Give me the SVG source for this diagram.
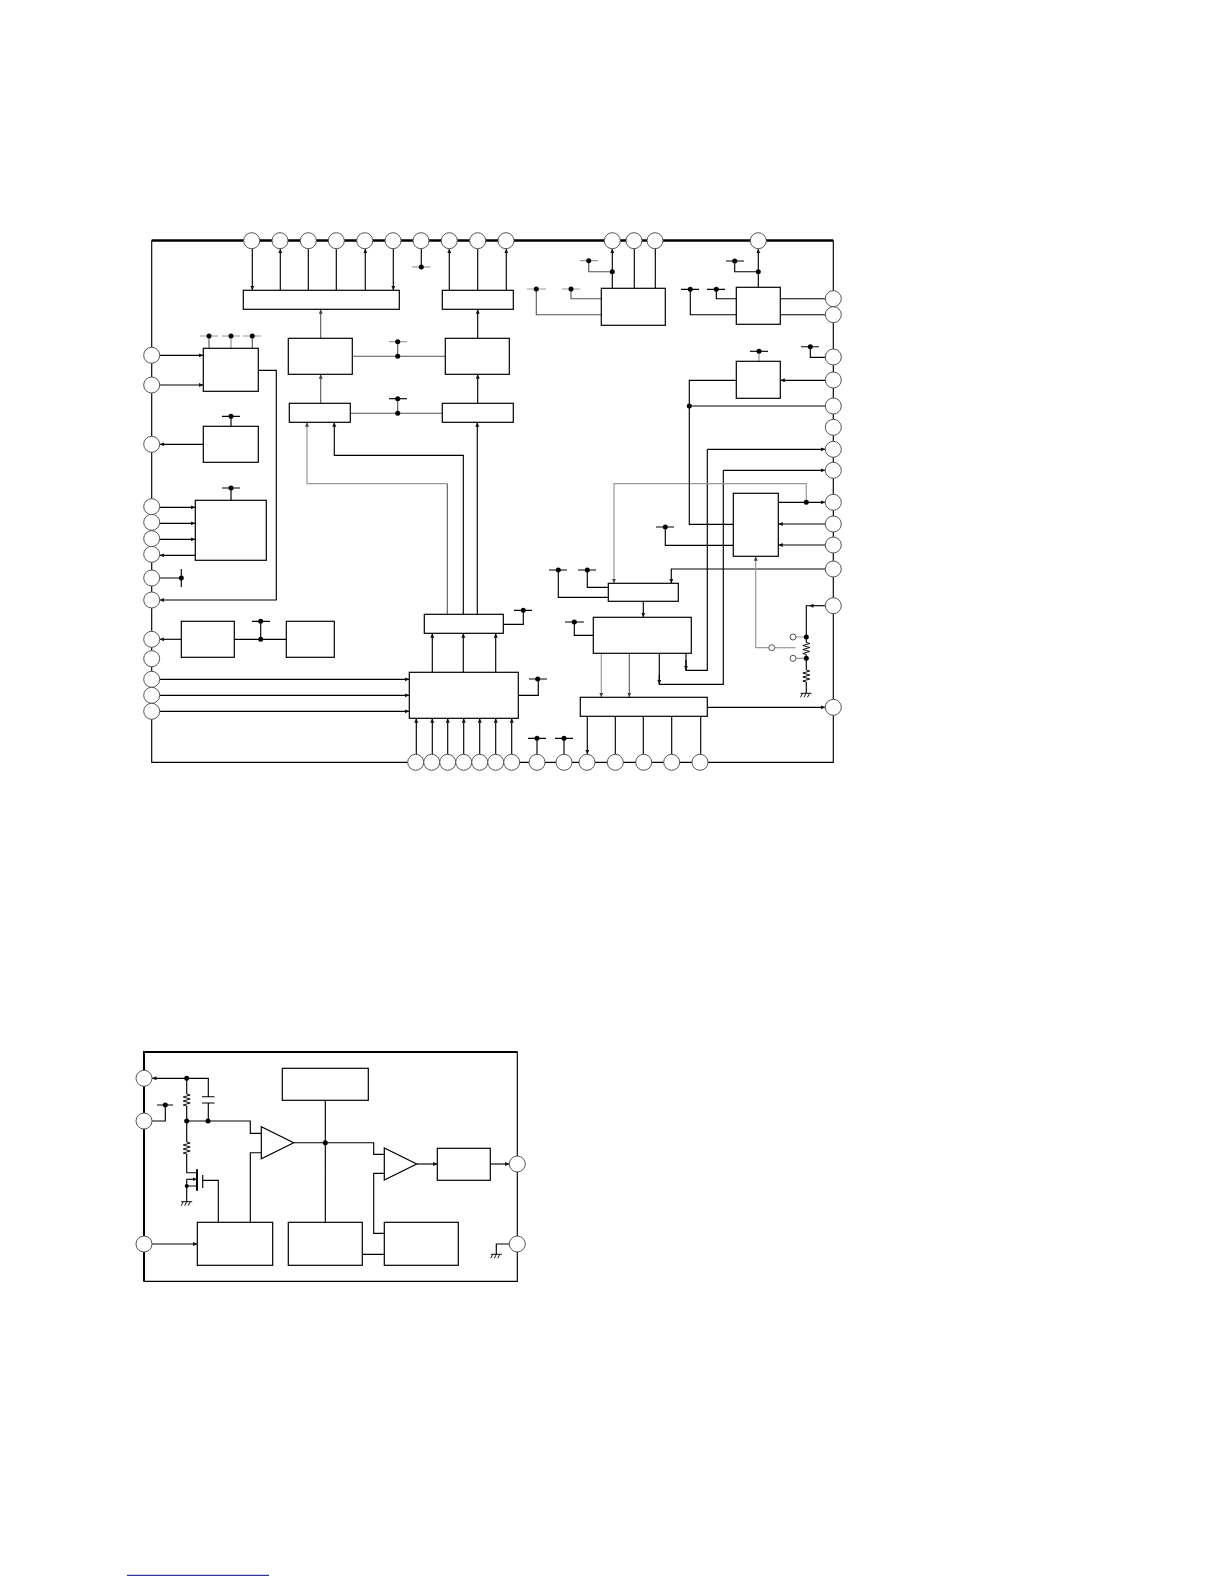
<svg xmlns="http://www.w3.org/2000/svg" width="1224" height="1584" viewBox="0 0 1224 1584">
<defs>
<marker id="ah" markerUnits="userSpaceOnUse" markerWidth="6" markerHeight="5" refX="4.500" refY="2" orient="auto"><path d="M0 0L4.500 2L0 4Z" fill="#111"/></marker>
<marker id="ahg" markerUnits="userSpaceOnUse" markerWidth="6" markerHeight="5" refX="4.500" refY="2" orient="auto"><path d="M0 0L4.500 2L0 4Z" fill="#444"/></marker>
<path id="gnd" d="M-5.500 0H5.500M-3.500 0L-5.500 4M0 0L-2 4M3.500 0L1.500 4" fill="none" stroke="#111" stroke-width="1"/>
<path id="res" d="M0 0L3.500 1L-3.500 3L3.500 5L-3.500 7L3.500 9L-3.500 11L0 12" fill="none" stroke="#111" stroke-width="1"/>
</defs>
<style>
.b{fill:#fff;stroke:#000;stroke-width:1.200}
.p{fill:#fff;stroke:#555;stroke-width:1}
.w{fill:none;stroke:#000;stroke-width:1.150}
.g{fill:none;stroke:#555;stroke-width:1.100}
.l{fill:none;stroke:#999;stroke-width:1.200}
.a{marker-end:url(#ah)}
.ag{marker-end:url(#ahg)}
.d{fill:#000}
</style>
<rect width="1224" height="1584" fill="#fff"/>
<g id="frames">
<path d="M151.700 240.500V762.300H833.300V240.500" class="w"/>
<path d="M151.700 240.500H833.300" fill="none" stroke="#000" stroke-width="2.500"/>
<path d="M144 1281.300V1052H517.300V1281.300Z" class="w"/>
<path d="M144 1281.300V1052H517.300" fill="none" stroke="#000" stroke-width="2"/>
</g>
<g id="connectors">
<path class="w a" d="M252.300 248.700V290.300"/><path class="w a" d="M280.300 290.300V248.700"/><path class="w" d="M308.300 248.700V290.300M336.300 248.700V290.300"/><path class="w a" d="M365.300 290.300V248.700"/><path class="w a" d="M393.300 248.700V290.300"/>
<path class="w" d="M421.300 248.700V267"/><path class="l" d="M412 267H430.500"/>
<path class="w a" d="M449.300 290.300V248.700"/><path class="w" d="M477.700 248.700V290.300"/><path class="w a" d="M506.300 290.300V248.700"/>
<path class="g ag" d="M320.700 338.300V309.300"/><path class="g ag" d="M320.700 403.300V374.300"/><path class="w a" d="M477.700 338.300V309.300"/><path class="w a" d="M477.700 403.300V374.300"/>
<path class="g" d="M352.300 356.300H445.300M350.300 413.300H442.300M397.700 341.700V356.300M397.700 398.700V413.300"/>
<path class="l" d="M389 341.700H407"/><path class="w" d="M389 398.700H407"/>
<path class="l" d="M200 336H218M222 336H240M243 336H261"/>
<path class="g" d="M209 336V348.300M252.300 336V348.300"/><path class="l" d="M231 336V348.300"/>
<path class="w a" d="M159.700 355.300H203.300"/><path class="w a" d="M159.700 385H203.300"/>
<path class="w a" d="M258.300 370.300H276.300V600H159.700"/>
<path class="w" d="M222 416.300H240M231 416.300V426.300M222 488H240M231 488V500.300"/>
<path class="w a" d="M203.300 444.300H159.700"/>
<path class="w a" d="M159.700 507.300H195.300"/><path class="w a" d="M159.700 523.300H195.300"/><path class="w a" d="M159.700 539.300H195.300"/><path class="w a" d="M195.300 555.300H159.700"/>
<path class="w" d="M159.700 578H181.300M181.300 569V587"/>
<path class="w a" d="M181.300 639.300H159.700"/><path class="w" d="M234.300 639.300H286.300M260.700 621.300V639.300M252 621.300H270"/>
<path class="w a" d="M159.700 679.300H409.300"/><path class="w a" d="M159.700 695.300H409.300"/><path class="w a" d="M159.700 711.300H409.300"/>
<path class="w a" d="M432.300 672.300V633.300"/><path class="w a" d="M463.300 672.300V633.300"/><path class="w a" d="M495.700 672.300V633.300"/>
<path class="l ag" d="M447.300 483.700H307V422.300"/><path class="g" d="M447.300 614.300V483.700"/><path class="w a" d="M463.300 614.300V455.300H334.300V422.300"/><path class="w a" d="M477.300 614.300V422.300"/>
<path class="w" d="M503.300 624.300H523.300V610.300M514 610.300H532"/>
<path class="w" d="M518.300 695.300H538.300V679M529 679H547"/>
<path class="w a" d="M416.300 754V718.300"/><path class="w a" d="M432.300 754V718.300"/><path class="w a" d="M447.700 754V718.300"/><path class="w a" d="M463.700 754V718.300"/><path class="w a" d="M479.700 754V718.300"/><path class="w a" d="M495.700 754V718.300"/><path class="w a" d="M511.700 754V718.300"/>
<path class="w" d="M537 754V738.300M528 738.300H546M564 754V738.300M555 738.300H573"/>
<path class="w a" d="M587.300 716.300V754.300"/><path class="w" d="M615.300 716.300V754.300M643.300 716.300V754.300M671.700 716.300V754.300M700.700 716.300V754.300"/>
<path class="w a" d="M707.300 707.300H825.300"/>
<path class="l ag" d="M601.300 653.300V697.300"/><path class="g ag" d="M629.300 653.300V697.300"/>
<path class="w" d="M659.300 653.300V684.300H723.300V470.300"/><path class="w a" d="M723.300 470.300H825.300"/><path class="w a" d="M659.300 675V684.300"/>
<path class="w" d="M686 653.300V670.300H707.300V449.300"/><path class="w a" d="M707.300 449.300H825.300"/><path class="w a" d="M686 660V670.300"/>
<path class="w a" d="M643.300 601.300V617.300"/>
<path class="w" d="M608.300 587.300H587.300V570M578 570H596M608.300 597.300H558.300V570M549 570H567"/>
<path class="w" d="M593.300 635.300H574.300V622M565 622H584"/>
<path class="w a" d="M825.300 569H671.300V583.300"/>
<path class="l ag" d="M806.300 502.300V483.700H614V583.300"/>
<path class="w a" d="M778.300 502.300H825.300"/><path class="w a" d="M825.300 524H778.300"/><path class="w a" d="M825.300 545H778.300"/>
<path class="w" d="M733.300 524.300H689.300V380.300H736.300M689.300 406H825.300"/>
<path class="w" d="M733.300 545.300H665.300V527M656 527H674"/>
<path class="l ag" d="M768.700 647.700H755.700V556.300"/><path class="l" d="M774.700 647.700H795.700"/>
<path class="w a" d="M825.300 605.700H809"/>
<path class="w" d="M809 605.700H806.300V642.700M806.300 654.700V670M806.300 682V693.300"/>
<path class="l" d="M796 637H806.300M796 658.300H806.300"/>
<path class="w a" d="M825.300 380.300H780.300"/>
<path class="l" d="M759 351.300V361.300"/><path class="w" d="M750 351.300H768"/>
<path class="w" d="M825.300 357.300H810.300V346.700M801 346.700H819"/>
<path class="w a" d="M758.300 287.300V248.700"/><path class="w" d="M758.300 271.700H734.700V261M726 261H744"/>
<path class="w" d="M780.300 298.700H825.300M780.300 314.700H825.300"/>
<path class="w" d="M736.300 298.700H716.300V289.300M707 289.300H725M736.300 314.700H690.300V289.300M681 289.300H699"/>
<path class="w a" d="M612.300 288.300V248.700"/><path class="w" d="M634.300 288.300V248.700M655.300 288.300V248.700"/>
<path class="g" d="M612.300 271.700H588.700V260.700M601.300 298.700H571V289M601.300 314.700H536.300V289"/>
<path class="l" d="M580 260.700H598M562 289H580M527 289H546"/>
<path class="w a" d="M186.700 1078.300H152"/><path class="w" d="M186.700 1078.300H208.300V1096.700M202 1096.700H214.500M202 1103H214.500M208.300 1103V1121"/>
<path class="w" d="M186.700 1078.300V1094M186.700 1106V1121M186.700 1121V1142M186.700 1154V1172.700H196.700"/>
<path class="w" d="M152 1121H165.300V1105M157 1105H173"/>
<path class="w" d="M186.700 1121H250.300V1133.300H261.300M250.300 1222.300V1152.700H261.300"/>
<path d="M197 1169.300V1190.700" fill="none" stroke="#000" stroke-width="2"/>
<path class="w" d="M202.700 1175V1188M202.700 1180.300H218.300V1222.300"/>
<path class="w a" d="M186.700 1179.300H197"/><path class="w" d="M186.700 1179.300V1201.700M186.700 1186H196.700"/>
<path class="w a" d="M152 1244H197.300"/>
<path class="w" d="M293.700 1142.700H373.700V1154.300H384.300M325.300 1100.300V1222.300M384.300 1173.300H373.700V1233.300H384.300M362.300 1254.300H384.300"/>
<path class="w a" d="M416.700 1164H437.300"/><path class="w a" d="M490.300 1164H509.300"/>
<path class="w" d="M509.300 1244H496.300V1254.300"/>
</g>
<g id="dots" class="d">
<circle cx="421.300" cy="267" r="2.500"/><circle cx="397.700" cy="341.700" r="2.500"/><circle cx="397.700" cy="356.300" r="2.500"/><circle cx="397.700" cy="398.700" r="2.500"/><circle cx="397.700" cy="413.300" r="2.500"/>
<circle cx="209" cy="336" r="2.500"/><circle cx="231" cy="336" r="2.500"/><circle cx="252.300" cy="336" r="2.500"/><circle cx="231" cy="416.300" r="2.500"/><circle cx="231" cy="488" r="2.500"/>
<circle cx="181.300" cy="578" r="2.500"/><circle cx="260.700" cy="621.300" r="2.500"/><circle cx="260.700" cy="639.300" r="2.500"/>
<circle cx="523.300" cy="610.300" r="2.500"/><circle cx="537.700" cy="679" r="2.500"/><circle cx="537" cy="738.300" r="2.500"/><circle cx="564" cy="738.300" r="2.500"/>
<circle cx="587.300" cy="570" r="2.500"/><circle cx="558.300" cy="570" r="2.500"/><circle cx="574.300" cy="622" r="2.500"/>
<circle cx="806.300" cy="502.300" r="2.500"/><circle cx="665.300" cy="527" r="2.500"/><circle cx="689.300" cy="406" r="2.500"/>
<circle cx="806.300" cy="637" r="2.500"/><circle cx="806.300" cy="658.300" r="2.500"/>
<circle cx="759" cy="351.300" r="2.500"/><circle cx="810.300" cy="346.700" r="2.500"/>
<circle cx="758.300" cy="271.700" r="2.500"/><circle cx="734.700" cy="261" r="2.500"/><circle cx="716.300" cy="289.300" r="2.500"/><circle cx="690.300" cy="289.300" r="2.500"/>
<circle cx="612.300" cy="271.700" r="2.500"/><circle cx="588.700" cy="260.700" r="2.500"/><circle cx="571" cy="289" r="2.500"/><circle cx="536.300" cy="289" r="2.500"/>
<circle cx="186.700" cy="1078.300" r="2.500"/><circle cx="186.700" cy="1121" r="2.500"/><circle cx="208" cy="1121" r="2.500"/><circle cx="165.300" cy="1105" r="2.500"/><circle cx="186.700" cy="1186" r="2"/><circle cx="325.300" cy="1142.700" r="2.500"/>
</g>
<g id="passives">
<use href="#res" x="806.300" y="642.500"/><use href="#res" x="806.300" y="670"/><use href="#gnd" x="806" y="693.300"/>
<use href="#res" x="186.700" y="1094"/><use href="#res" x="186.700" y="1142"/><use href="#gnd" x="186.700" y="1201.700"/><use href="#gnd" x="496.300" y="1254.300"/>
<circle class="p" cx="771.700" cy="647.700" r="3"/><circle class="p" cx="793" cy="637" r="3"/><circle class="p" cx="793" cy="658.300" r="3"/>
</g>
<g id="block-1">
<rect id="n1" class="b" x="243.300" y="290.300" width="156" height="19"/>
<rect id="n2" class="b" x="442.300" y="290.300" width="71" height="19"/>
<rect id="n3" class="b" x="288.300" y="338.300" width="64" height="36"/>
<rect id="n4" class="b" x="445.300" y="338.300" width="64" height="36"/>
<rect id="n5" class="b" x="289.300" y="403.300" width="61" height="19"/>
<rect id="n6" class="b" x="442.300" y="403.300" width="71" height="19"/>
<rect id="n7" class="b" x="203.300" y="348.300" width="55" height="43"/>
<rect id="n8" class="b" x="203.300" y="426.300" width="55" height="36"/>
<rect id="n9" class="b" x="195.300" y="500.300" width="71" height="60"/>
<rect id="n10" class="b" x="181.300" y="621.300" width="53" height="36"/>
<rect id="n11" class="b" x="286.300" y="621.300" width="48" height="36"/>
<rect id="n12" class="b" x="424.300" y="614.300" width="79" height="19"/>
<rect id="n13" class="b" x="409.300" y="672.300" width="109" height="46"/>
<rect id="n14" class="b" x="601.300" y="288.300" width="64" height="37"/>
<rect id="n15" class="b" x="736.300" y="287.300" width="44" height="37"/>
<rect id="n16" class="b" x="736.300" y="361.300" width="44" height="37"/>
<rect id="n17" class="b" x="733.300" y="493.300" width="45" height="63"/>
<rect id="n18" class="b" x="608.300" y="583.300" width="70" height="18"/>
<rect id="n19" class="b" x="593.300" y="617.300" width="98" height="36"/>
<rect id="n20" class="b" x="580.300" y="697.300" width="127" height="19"/>
</g>
<g id="pins-1">
<circle class="p" cx="251.700" cy="240.700" r="8"/><circle class="p" cx="280" cy="240.700" r="8"/><circle class="p" cx="308.300" cy="240.700" r="8"/><circle class="p" cx="336.300" cy="240.700" r="8"/><circle class="p" cx="364.700" cy="240.700" r="8"/><circle class="p" cx="393" cy="240.700" r="8"/><circle class="p" cx="421" cy="240.700" r="8"/><circle class="p" cx="449.300" cy="240.700" r="8"/><circle class="p" cx="477.700" cy="240.700" r="8"/><circle class="p" cx="506" cy="240.700" r="8"/><circle class="p" cx="612.300" cy="240.700" r="8"/><circle class="p" cx="634" cy="240.700" r="8"/><circle class="p" cx="655" cy="240.700" r="8"/><circle class="p" cx="758.300" cy="240.700" r="8"/>
<circle class="p" cx="833.300" cy="298.700" r="8"/><circle class="p" cx="833.300" cy="314.700" r="8"/><circle class="p" cx="833.300" cy="357" r="8"/><circle class="p" cx="833.300" cy="380" r="8"/><circle class="p" cx="833.300" cy="406" r="8"/><circle class="p" cx="833.300" cy="427.300" r="8"/><circle class="p" cx="833.300" cy="449.300" r="8"/><circle class="p" cx="833.300" cy="470.300" r="8"/><circle class="p" cx="833.300" cy="502.300" r="8"/><circle class="p" cx="833.300" cy="524" r="8"/><circle class="p" cx="833.300" cy="545" r="8"/><circle class="p" cx="833.300" cy="569" r="8"/><circle class="p" cx="833.300" cy="605.700" r="8"/><circle class="p" cx="833.300" cy="707.300" r="8"/>
<circle class="p" cx="415.700" cy="762.300" r="8"/><circle class="p" cx="431.700" cy="762.300" r="8"/><circle class="p" cx="447.700" cy="762.300" r="8"/><circle class="p" cx="463.700" cy="762.300" r="8"/><circle class="p" cx="479.700" cy="762.300" r="8"/><circle class="p" cx="495.700" cy="762.300" r="8"/><circle class="p" cx="511.700" cy="762.300" r="8"/><circle class="p" cx="537" cy="762.300" r="8"/><circle class="p" cx="564" cy="762.300" r="8"/><circle class="p" cx="587" cy="762.300" r="8"/><circle class="p" cx="615.300" cy="762.300" r="8"/><circle class="p" cx="643.700" cy="762.300" r="8"/><circle class="p" cx="671.700" cy="762.300" r="8"/><circle class="p" cx="700" cy="762.300" r="8"/>
<circle class="p" cx="151.700" cy="355.300" r="8"/><circle class="p" cx="151.700" cy="385" r="8"/><circle class="p" cx="151.700" cy="444.300" r="8"/><circle class="p" cx="151.700" cy="506.700" r="8"/><circle class="p" cx="151.700" cy="522.300" r="8"/><circle class="p" cx="151.700" cy="538.700" r="8"/><circle class="p" cx="151.700" cy="554.300" r="8"/><circle class="p" cx="151.700" cy="578" r="8"/><circle class="p" cx="151.700" cy="600" r="8"/><circle class="p" cx="151.700" cy="639.300" r="8"/><circle class="p" cx="151.700" cy="658.700" r="8"/><circle class="p" cx="151.700" cy="679.300" r="8"/><circle class="p" cx="151.700" cy="695.300" r="8"/><circle class="p" cx="151.700" cy="711.300" r="8"/>
</g>
<g id="block-2">
<rect id="m1" class="b" x="282.300" y="1068.300" width="86" height="32"/>
<rect id="m2" class="b" x="437.300" y="1148.300" width="53" height="32"/>
<rect id="m3" class="b" x="197.300" y="1222.300" width="75.400" height="43"/>
<rect id="m4" class="b" x="288.300" y="1222.300" width="74" height="43"/>
<rect id="m5" class="b" x="384.300" y="1222.300" width="74" height="43"/>
<path id="m6" class="b" d="M261.300 1126.700V1158.700L293.700 1142.700Z"/>
<path id="m7" class="b" d="M384.300 1148V1180L416.700 1164Z"/>
</g>
<g id="pins-2">
<circle class="p" cx="144" cy="1078.300" r="8"/><circle class="p" cx="144" cy="1121" r="8"/><circle class="p" cx="144" cy="1244" r="8"/><circle class="p" cx="517.300" cy="1164" r="8"/><circle class="p" cx="517.300" cy="1244" r="8"/>
</g>
<path id="footer-rule" d="M127 1575.300H269" fill="none" stroke="#000080" stroke-width="1"/>
</svg>
